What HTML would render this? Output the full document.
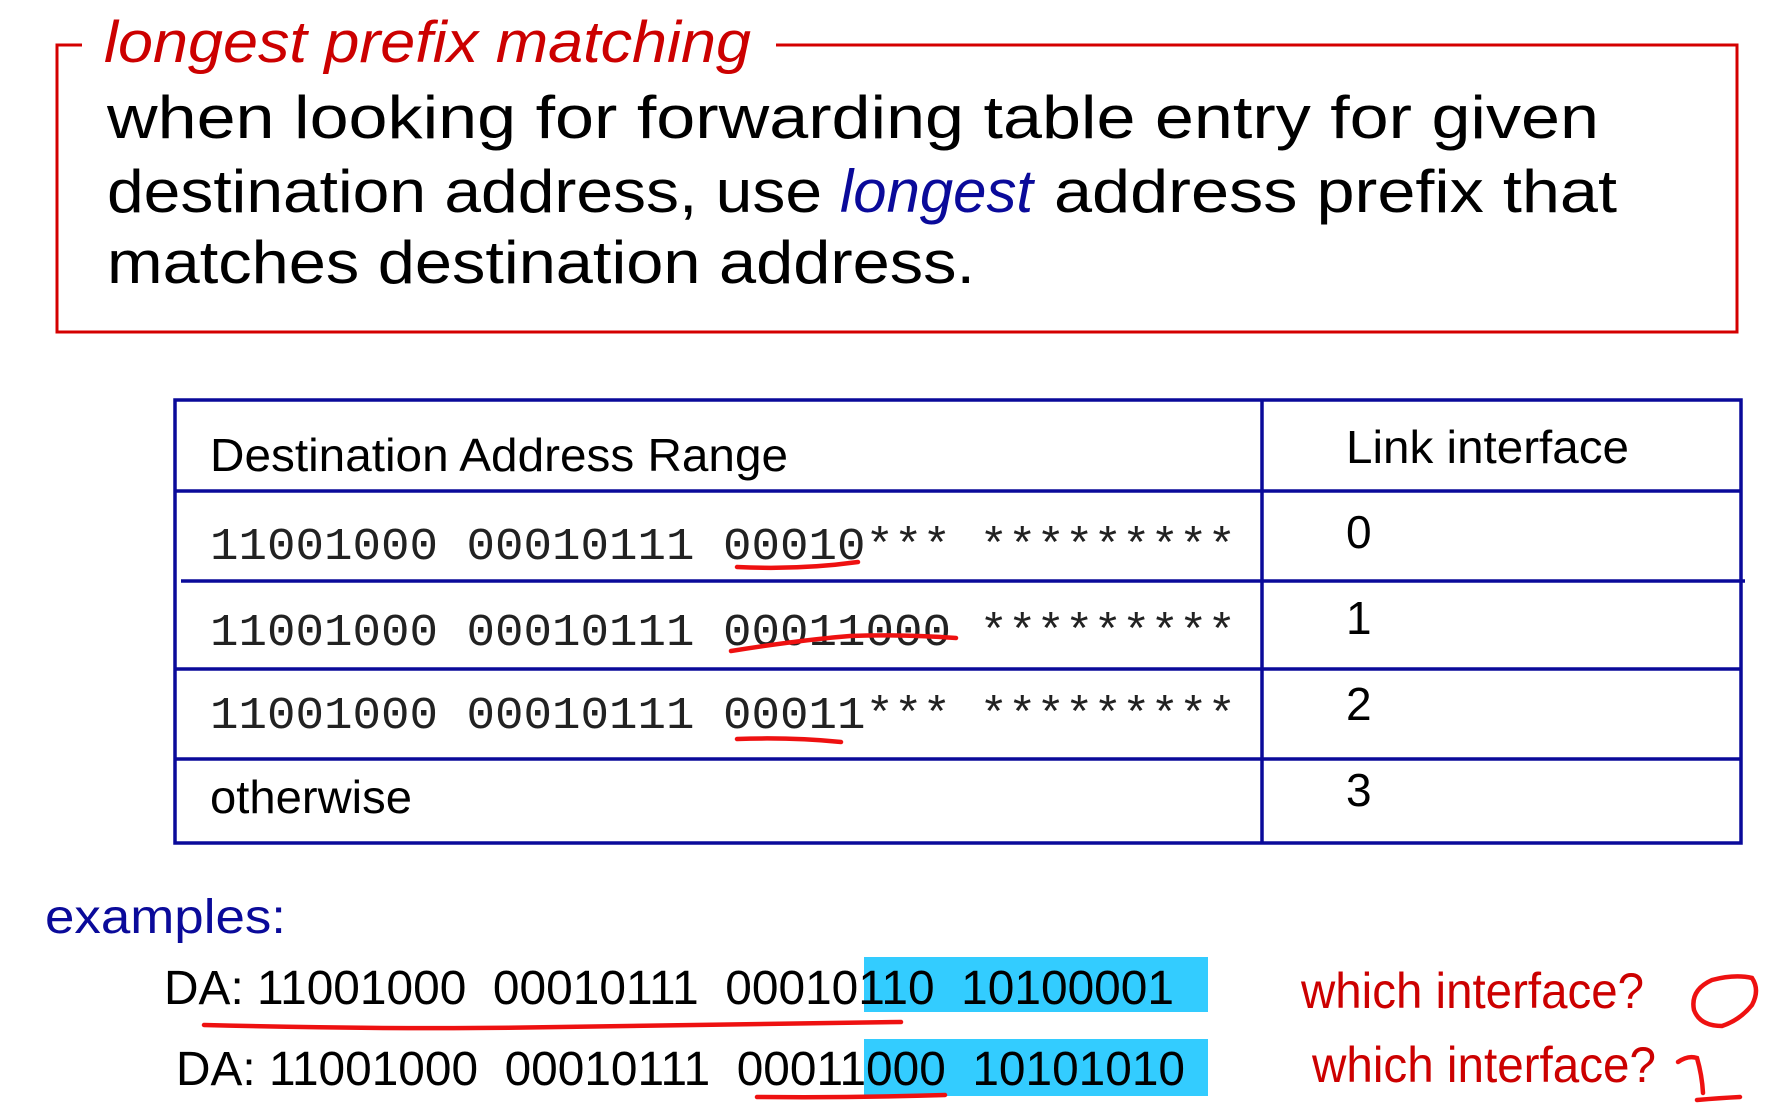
<!DOCTYPE html>
<html><head><meta charset="utf-8"><style>
html,body{margin:0;padding:0;background:#fff;}
svg{display:block;}
text{font-family:"Liberation Sans",sans-serif;}
.mono{font-family:"Liberation Mono",monospace;}
</style></head><body>
<svg width="1778" height="1108" viewBox="0 0 1778 1108" xmlns="http://www.w3.org/2000/svg">
  <!-- red definition box -->
  <path d="M82 45 H57 V332 H1737 V45 H776" fill="none" stroke="#d40000" stroke-width="3"/>
  <text x="104" y="62" font-size="58" font-style="italic" fill="#cc0000" textLength="647" lengthAdjust="spacingAndGlyphs">longest prefix matching</text>
  <text x="107" y="138" font-size="60" fill="#000" textLength="1492" lengthAdjust="spacingAndGlyphs">when looking for forwarding table entry for given</text>
  <text x="107" y="212" font-size="60" fill="#000"><tspan textLength="715" lengthAdjust="spacingAndGlyphs">destination address, use</tspan><tspan x="840" font-style="italic" fill="#0a0a9a" textLength="193" lengthAdjust="spacingAndGlyphs">longest</tspan><tspan x="1054" textLength="563" lengthAdjust="spacingAndGlyphs">address prefix that</tspan></text>
  <text x="107" y="283" font-size="60" fill="#000" textLength="868" lengthAdjust="spacingAndGlyphs">matches destination address.</text>

  <!-- table -->
  <g stroke="#0a0a9a" stroke-width="3.5" fill="none">
    <rect x="175" y="400" width="1566" height="443"/>
    <line x1="1262" y1="400" x2="1262" y2="843"/>
    <line x1="175" y1="491" x2="1741" y2="491"/>
    <line x1="181" y1="581" x2="1745" y2="581"/>
    <line x1="175" y1="669" x2="1741" y2="669"/>
    <line x1="175" y1="759" x2="1741" y2="759"/>
  </g>
  <text x="210" y="471" font-size="46" textLength="578" lengthAdjust="spacingAndGlyphs">Destination Address Range</text>
  <text x="1346" y="463" font-size="46" textLength="283" lengthAdjust="spacingAndGlyphs">Link interface</text>
  <text class="mono" x="210" y="559" font-size="45" fill="#222" textLength="1026" lengthAdjust="spacingAndGlyphs">11001000 00010111 00010*** *********</text>
  <text class="mono" x="210" y="645" font-size="45" fill="#222" textLength="1026" lengthAdjust="spacingAndGlyphs">11001000 00010111 00011000 *********</text>
  <text class="mono" x="210" y="728" font-size="45" fill="#222" textLength="1026" lengthAdjust="spacingAndGlyphs">11001000 00010111 00011*** *********</text>
  <text x="210" y="813" font-size="46" textLength="202" lengthAdjust="spacingAndGlyphs">otherwise</text>
  <text x="1346" y="548" font-size="46">0</text>
  <text x="1346" y="634" font-size="46">1</text>
  <text x="1346" y="720" font-size="46">2</text>
  <text x="1346" y="806" font-size="46">3</text>

  <!-- examples -->
  <text x="45" y="933" font-size="48" fill="#0a0a9a" textLength="241" lengthAdjust="spacingAndGlyphs">examples:</text>
  <rect x="864" y="957" width="344" height="55" fill="#33ccff"/>
  <rect x="864" y="1039" width="344" height="57" fill="#33ccff"/>
  <text x="164" y="1004" font-size="48" textLength="1010" lengthAdjust="spacingAndGlyphs">DA: 11001000&#160; 00010111&#160; 00010110&#160; 10100001</text>
  <text x="176" y="1085" font-size="48" textLength="1009" lengthAdjust="spacingAndGlyphs">DA: 11001000&#160; 00010111&#160; 00011000&#160; 10101010</text>
  <text x="1301" y="1008" font-size="50" fill="#cc0000" textLength="343" lengthAdjust="spacingAndGlyphs">which interface?</text>
  <text x="1312" y="1082" font-size="50" fill="#cc0000" textLength="344" lengthAdjust="spacingAndGlyphs">which interface?</text>

  <!-- handwritten annotations -->
  <g stroke="#ee1111" stroke-width="4.5" fill="none" stroke-linecap="round">
    <path d="M737 567 Q800 570 858 562"/>
    <path d="M731 651 Q800 640 850 636 Q900 634 956 638"/>
    <path d="M737 739 Q790 737 841 742"/>
    <path d="M204 1025 Q400 1030 560 1027 Q750 1024 901 1022"/>
    <path d="M757 1097 Q850 1098 945 1095"/>
    <path d="M1712 980 Q1735 974 1752 978 Q1760 990 1752 1005 Q1740 1020 1722 1026 Q1700 1026 1694 1010 Q1690 990 1712 980"/>
    <path d="M1678 1062 Q1688 1055 1697 1058 Q1702 1075 1703 1093 M1697 1100 Q1720 1098 1740 1097"/>
  </g>
</svg>
</body></html>
